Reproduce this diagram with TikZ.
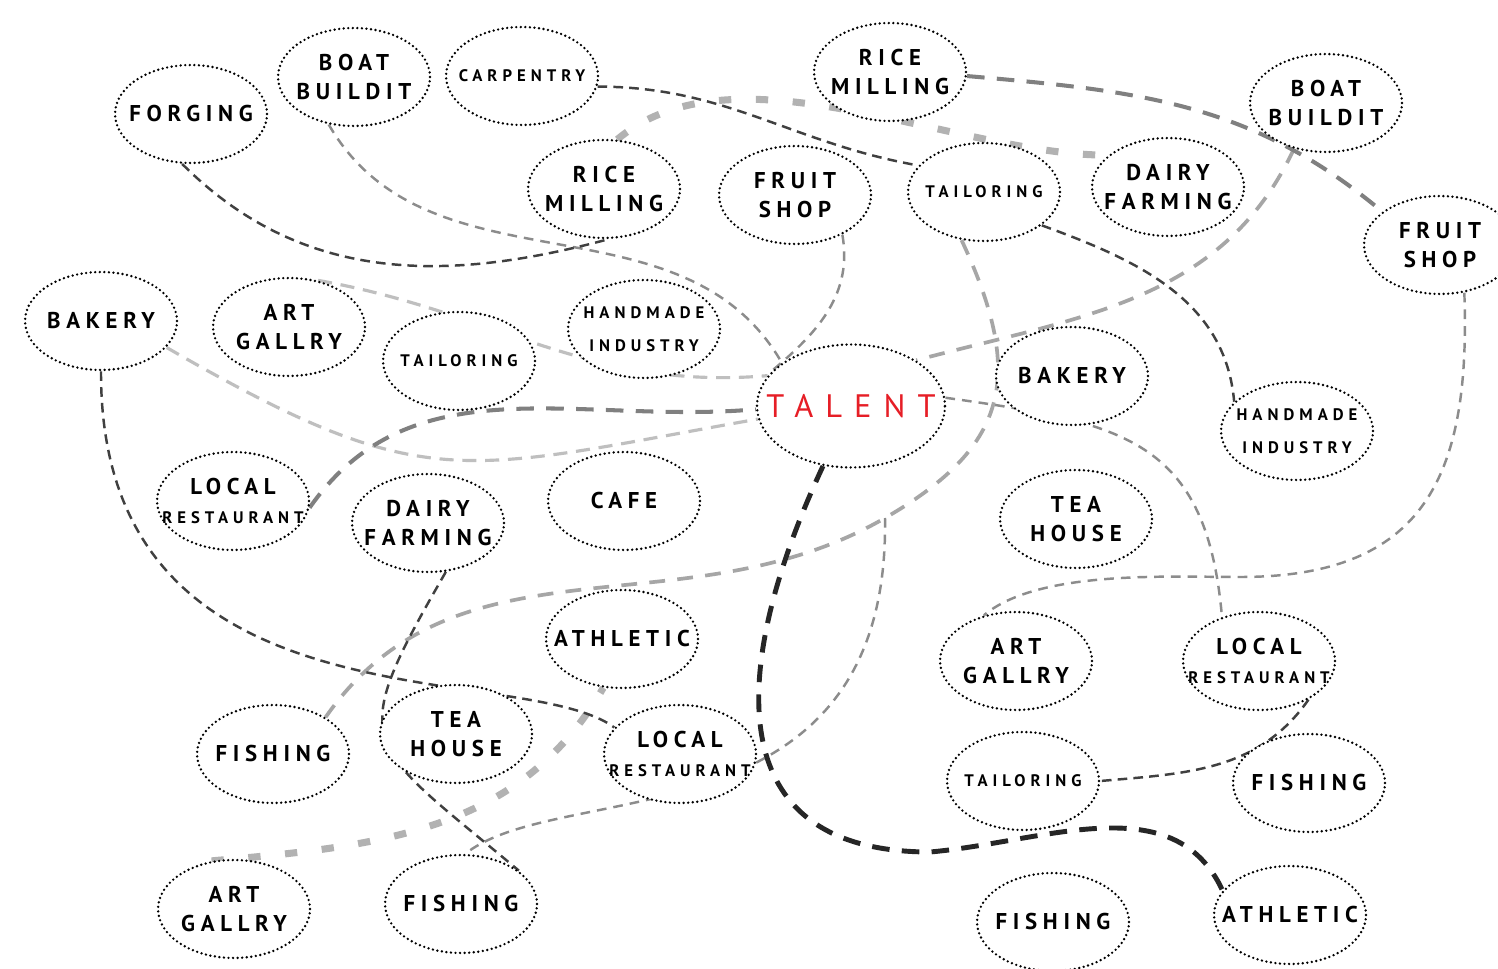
\documentclass[tikz,border=0pt]{standalone}
\usepackage{fontspec}
\usetikzlibrary{shapes.geometric, backgrounds}
\newfontfamily\bubfont[LetterSpace=25]{PT Sans}
\newfontfamily\smfont[LetterSpace=30]{PT Sans}
\newfontfamily\talfont[LetterSpace=37]{PT Sans}
\newcommand\smtxt{\smfont\bfseries\fontsize{9.5}{19}\selectfont}
\definecolor{talred}{RGB}{230,30,38}

\begin{document}
\begin{tikzpicture}[
		x=0.02cm, y=0.02cm,
		bub/.style={ellipse, draw, fill=white, line width=1.5pt, line cap=round, dash pattern=on 0pt off 2.6pt,
			minimum width=3.04cm, minimum height=1.96cm, inner xsep=-1.2cm, inner ysep=0pt, align=center,
			font=\bubfont\bfseries\fontsize{13}{16.5}\selectfont},
		tal/.style={minimum width=3.76cm, minimum height=2.46cm, text=talred, font=\talfont\fontsize{18.5}{20}\selectfont},
		dk/.style={draw=black!75, line width=1.4pt, dash pattern=on 5.5pt off 3.5pt},
		blk/.style={draw=black!85, line width=2.8pt, dash pattern=on 10pt off 7pt},
		gr/.style={draw=black!50, line width=2.3pt, dash pattern=on 10pt off 7pt},
		lgr/.style={draw=black!35, line width=2.1pt, dash pattern=on 9pt off 7pt},
		md/.style={draw=black!45, line width=1.4pt, dash pattern=on 5.5pt off 4pt},
		lt/.style={draw=black!25, line width=1.8pt, dash pattern=on 8pt off 5pt},
		sq/.style={draw=black!30, line width=4pt, dash pattern=on 7pt off 14pt}
	]

	\useasboundingbox (0,0) rectangle (1498,968);

	\node[bub] (forg) at (191,854) {FORGING};
	\node[bub] (boatL) at (354,891) {BOAT\\BUILDIT};
	\node[bub, font=\smtxt] (carp) at (522,892) {CARPENTRY};
	\node[bub] (riceT) at (890,896) {RICE\\MILLING};
	\node[bub] (boatR) at (1326,865) {BOAT\\BUILDIT};
	\node[bub] (riceM) at (604,779) {RICE\\MILLING};
	\node[bub] (fruitM) at (795,773) {FRUIT\\SHOP};
	\node[bub, font=\smtxt] (tailT) at (984,776) {TAILORING};
	\node[bub] (dairyT) at (1168,781) {DAIRY\\FARMING};
	\node[bub] (fruitR) at (1440,723) {FRUIT\\SHOP};

	\node[bub] (bakeL) at (101,647) {BAKERY};
	\node[bub] (artL) at (289,641) {ART\\GALLRY};
	\node[bub, font=\smtxt] (tailL) at (459,607) {TAILORING};
	\node[bub, font=\smtxt] (handL) at (644,639) {HANDMADE\\INDUSTRY};
	\node[bub, tal] (talent) at (851,562) {TALENT};
	\node[bub] (bakeR) at (1072,592) {BAKERY};
	\node[bub, font=\smtxt] (handR) at (1297,537) {HANDMADE\\INDUSTRY};

	\node[bub] (restL) at (233,467) {LOCAL\\{\smtxt RESTAURANT}};
	\node[bub] (dairyM) at (428,445) {DAIRY\\FARMING};
	\node[bub] (cafe) at (624,467) {CAFE};
	\node[bub] (teaR) at (1076,449) {TEA\\HOUSE};
	\node[bub] (athM) at (622,329) {ATHLETIC};
	\node[bub] (artR) at (1016,307) {ART\\GALLRY};
	\node[bub] (restR) at (1259,307) {LOCAL\\{\smtxt RESTAURANT}};

	\node[bub] (fishL) at (273,214) {FISHING};
	\node[bub] (teaM) at (456,234) {TEA\\HOUSE};
	\node[bub] (restM) at (680,214) {LOCAL\\{\smtxt RESTAURANT}};
	\node[bub, font=\smtxt] (tailB) at (1023,187) {TAILORING};
	\node[bub] (fishR) at (1309,185) {FISHING};
	\node[bub] (artB) at (234,59) {ART\\GALLRY};
	\node[bub] (fishBM) at (461,64) {FISHING};
	\node[bub] (fishBR) at (1053,46) {FISHING};
	\node[bub] (athBR) at (1290,53) {ATHLETIC};

	\coordinate (kj) at (885,450);
	\coordinate (mb) at (930,116);
	\coordinate (pb) at (1240,391);

	\begin{scope}[on background layer]
		\fill[white] (0,0) rectangle (1498,968);

		\draw[lt] (artL.58) to[out=-10,in=185] (talent.160);
		\draw[lt] (bakeL.-22) to[out=-30,in=190,looseness=1.3] (talent.188);
		\draw[sq] (riceM.75) to[out=40,in=180,looseness=0.8] (dairyT.152);
		\draw[sq] (artB.115) to[out=5,in=240] (athM.-111);

		\draw[md] (boatL.-118) to[out=-60,in=120] (talent.148);
		\draw[md] (fruitM.-40) to[out=-80,in=40] (talent.155);
		\draw[md] (talent.5) to[out=-8,in=95,looseness=1.3] (restR.130);
		\draw[md] (fruitR.-63) to[out=-88,in=0,looseness=1.3] (pb) to[out=180,in=40,looseness=0.7] (artR.125);
		\draw[md] (kj) .. controls (890,120) and (560,190) .. (fishBM.85);

		\draw[lgr] (boatR.-125) to[out=-115,in=15] (talent.35);
		\draw[lgr] (tailT.-115) to[out=-65,in=30,looseness=1.3] (kj) to[out=210,in=55] (fishL.35);

		\draw[gr] (riceT.-3) to[out=-5,in=140] (fruitR.150);
		\draw[gr] (restL.-5) to[out=55,in=185] (talent.182);

		\draw[dk] (carp.-8) to[out=0,in=170] (tailT.158);
		\draw[dk] (forg.-100) to[out=-45,in=195] (riceM.-85);
		\draw[dk] (tailT.-30) to[out=-20,in=95] (handR.155);
		\draw[dk] (restR.-38) to[out=235,in=5] (tailB.0);
		\draw[dk] (bakeL.-90) .. controls (100,230) and (520,310) .. (restM.158);
		\draw[dk] (dairyM.-70) to[out=-120,in=140,looseness=1.7] (fishBM.30);

		\draw[blk] (talent.-115) to[out=-115,in=180,looseness=1.38] (mb) to[out=5,in=115] (athBR.160);
	\end{scope}
\end{tikzpicture}
\end{document}
